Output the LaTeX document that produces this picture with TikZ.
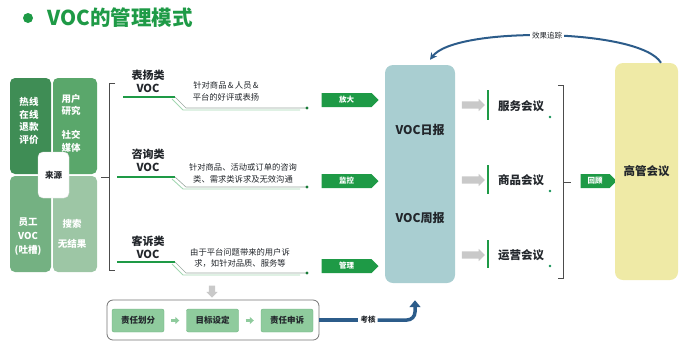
\documentclass[tikz,border=0pt]{standalone}
\usepackage{fontspec}
\setmainfont{Noto Sans CJK SC}
\definecolor{leaf}{HTML}{1E9A46}
\definecolor{ink}{HTML}{22262B}
\definecolor{qhot}{HTML}{3F8D55}
\definecolor{qstudy}{HTML}{5AA76B}
\definecolor{qstaff}{HTML}{74B182}
\definecolor{qsearch}{HTML}{9DC6A5}
\definecolor{mist}{HTML}{A9CED1}
\definecolor{straw}{HTML}{EFEAA6}
\definecolor{mint}{HTML}{A3D7B2}
\definecolor{trailgray}{HTML}{9AA8A0}
\definecolor{ash}{HTML}{C9C9C9}
\definecolor{dutyfill}{HTML}{8FCB9D}
\definecolor{dutyline}{HTML}{6DB37F}
\definecolor{navyblue}{HTML}{2C5C8A}
\usetikzlibrary{arrows.meta, positioning, calc, shapes.symbols, shapes.arrows}
\tikzset{
  cell/.style={rounded corners=5pt, inner sep=0pt},
  celltext/.style={text=white, align=center, font=\bfseries\fontsize{9.5}{12.7}\selectfont},
  hub/.style={fill=white, draw=black!12, rounded corners=5pt, minimum width=31, minimum height=46,
              font=\bfseries\fontsize{8.5}{10}\selectfont, text=ink},
  brace/.style={draw=black!70, line width=0.7pt},
  cat/.style={align=center, font=\bfseries\fontsize{11}{13}\selectfont, text=ink},
  desc/.style={align=center, font=\fontsize{8.3}{11.5}\selectfont, text=ink},
  uline/.style={draw=leaf, line width=2pt},
  trail/.style={draw=trailgray, line width=0.6pt},
  trailmint/.style={draw=mint, line width=0.9pt},
  tag/.style={signal, signal to=east, fill=leaf, text=white, minimum width=57, minimum height=14,
              inner sep=1pt, font=\bfseries\fontsize{7.5}{8}\selectfont},
  report/.style={fill=mist, rounded corners=8pt, minimum width=70, minimum height=218},
  reptext/.style={font=\bfseries\fontsize{12}{14}\selectfont, text=ink},
  push/.style={single arrow, fill=ash, minimum height=23, inner sep=3.5pt, single arrow head extend=2.5pt},
  bar/.style={draw=leaf, line width=1.6pt},
  meet/.style={font=\bfseries\fontsize{11.5}{13}\selectfont, text=ink},
  exec/.style={fill=straw, rounded corners=8pt, minimum width=63, minimum height=217,
               font=\bfseries\fontsize{11.5}{13}\selectfont, text=ink},
  track/.style={-{Stealth[length=7pt,width=7pt]}, line width=2pt, draw=navyblue},
  lbl/.style={fill=white, inner sep=2pt, text=ink, font=\bfseries\fontsize{7.5}{8}\selectfont},
  frame/.style={draw=black!55, rounded corners=6pt, line width=0.8pt, minimum width=212, minimum height=40},
  duty/.style={fill=dutyfill, draw=dutyline, rounded corners=2pt, minimum width=52, minimum height=23,
               inner sep=1pt, font=\bfseries\fontsize{8.5}{10}\selectfont, text=ink},
  stepflow/.style={-{Triangle[length=4pt,width=7pt]}, line width=2.4pt, draw=dutyfill, shorten <=7pt, shorten >=7pt},
  audit/.style={line width=3.5pt, draw=navyblue},
}
\begin{document}
\begin{tikzpicture}[x=1pt,y=-1pt]
\useasboundingbox (0,0) rectangle (692,360);
% title
\fill[leaf] (28,18) circle (5);
\node[anchor=west, text=leaf, font=\bfseries\fontsize{20.5}{22}\selectfont] (ttl) at (44,18) {VOC的管理模式};

% sources
\node[cell, fill=qhot, minimum width=41, minimum height=96] (hot) at (30.5,126) {};
\node[cell, fill=qstudy, minimum width=44, minimum height=96] (study) at (75,126) {};
\node[cell, fill=qstaff, minimum width=41, minimum height=96] (staff) at (30.5,224) {};
\node[cell, fill=qsearch, minimum width=44, minimum height=96] (search) at (75,224) {};
\node[celltext] (hot t) at (29,121) {热线\\在线\\退款\\评价};
\node[celltext] (study t) at (71,105) {用户\\研究};
\node[celltext] (social t) at (71,141) {社交\\媒体};
\node[celltext, font=\bfseries\fontsize{9.5}{14}\selectfont] (staff t) at (28,237) {员工\\VOC\\(吐槽)};
\node[celltext, font=\bfseries\fontsize{9.5}{20}\selectfont] (search t) at (72,234) {搜索\\无结果};
\node[hub] (src) at (53.5,175) {来源};
\draw[brace] (115,83) -- (109,83) -- (109,270) -- (115,270);
\draw[brace] (101,177) -- (109,177);

% voc types
\node[cat] (praise) at (148,81.5) {表扬类\\VOC};
\node[cat] (ask) at (148,160) {咨询类\\VOC};
\node[cat] (blame) at (148,247.5) {客诉类\\VOC};
\draw[uline] (123,97) -- (175,97);
\draw[uline] (117,177) -- (175,177);
\draw[uline] (117,262) -- (175,262);
\draw[trailmint] (172,99) -- (183,110) -- (300,110);
\draw[trailmint] (172,179) -- (183,189) -- (300,189);
\draw[trailmint] (172,264) -- (183,275) -- (300,275);
\draw[trail] (175,97) -- (186,108) -- (307,108);
\draw[trail] (175,177) -- (186,187) -- (307,187);
\draw[trail] (175,262) -- (186,273) -- (307,273);
\fill[leaf!80!black] (307,108) circle (1.7) (307,187) circle (1.7) (307,273) circle (1.7);
\node[desc] (praise d) at (226,91.5) {针对商品\,\&\,人员\,\&\\平台的好评或表扬};
\node[desc] (ask d) at (243,173.5) {针对商品、活动或订单的咨询\\类、需求类诉求及无效沟通};
\node[desc] (blame d) at (240,258) {由于平台问题带来的用户诉\\求，如针对品质、服务等};
\node[tag] (amp) at (346.5,100) {放大};
\node[tag] (watch) at (346.5,181) {监控};
\node[tag] (handle) at (346.5,266) {管理};

% reports and meetings
\node[report] (voc) at (420,174) {};
\node[reptext] (daily) at (420,130) {VOC日报};
\node[reptext] (weekly) at (420,218) {VOC周报};
\node[push] (p1) at (471.5,105) {};
\node[push] (p2) at (471.5,180) {};
\node[push] (p3) at (471.5,255) {};
\draw[bar] (488,90) -- (488,120);
\draw[bar] (488,165) -- (488,194);
\draw[bar] (488,240) -- (488,268);
\node[meet] (svc) at (521,106) {服务会议};
\node[meet] (goods) at (521,180) {商品会议};
\node[meet] (ops) at (521,255) {运营会议};
\fill[leaf!70!teal] (550,117) circle (1.3) (550,191) circle (1.3) (550,266) circle (1.3);
\draw[brace] (558,85) -- (563,85) -- (563,278) -- (558,278);
\draw[brace] (563,182) -- (571,182);
\node[tag, minimum width=36] (recap) at (595,181) {回顾};
\node[exec] (boss) at (646.5,171.5) {高管会议};

% tracking
\coordinate (trk s) at ($(boss.north)+(14.5,0)$);
\coordinate (trk e) at ($(voc.north)+(10,-5)$);
\draw[track] (trk s) .. controls (640,28) and (455,26) .. (trk e) node[pos=0.5, lbl, font=\fontsize{7.5}{8}\selectfont] {效果追踪};

% duties
\node[push, shape border rotate=270, minimum height=12, inner sep=3pt] (down) at (212,290) {};
\node[frame] (duties) at (213,320) {};
\node[duty] (split) at (138,320.5) {责任划分};
\node[duty] (goal) at (212.5,320.5) {目标设定};
\node[duty] (appeal) at (287,320.5) {责任申诉};
\draw[stepflow] (split) -- (goal);
\draw[stepflow] (goal) -- (appeal);
\node[lbl] (exam) at (368,320) {考核};
\coordinate (vocfoot) at ($(voc.south)+(-5,17)$);
\draw[audit] (duties.east) -- (exam.west);
\draw[audit, -{Triangle[length=7pt,width=11pt]}, rounded corners=8pt] (exam.east) -| (vocfoot);
\end{tikzpicture}
\end{document}
